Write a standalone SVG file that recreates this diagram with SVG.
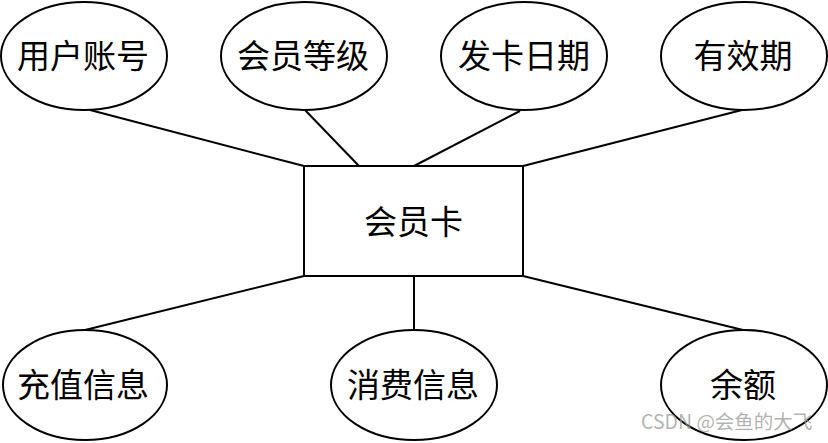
<svg xmlns="http://www.w3.org/2000/svg" width="828" height="443" viewBox="0 0 828 443">
<style>
.n{fill:#fff;stroke:#000;stroke-width:2}
.t{font-family:"Noto Sans CJK SC","Noto Sans",sans-serif;font-size:33px;fill:#000;text-anchor:middle;dominant-baseline:central}
.e{stroke:#000;stroke-width:2;fill:none}
.w{font-family:"Noto Sans CJK SC","Noto Sans",sans-serif;font-size:19.5px;fill:#999;fill-opacity:0.75}
</style>
<rect width="828" height="443" fill="#fff"/>
<g id="connectors">
<line class="e" x1="90" y1="110" x2="304" y2="166"/>
<line class="e" x1="305" y1="110" x2="359" y2="166"/>
<line class="e" x1="520" y1="111" x2="414" y2="166"/>
<line class="e" x1="742" y1="110" x2="523" y2="166"/>
<line class="e" x1="85" y1="330" x2="304" y2="276"/>
<line class="e" x1="414" y1="330" x2="414" y2="276"/>
<line class="e" x1="743" y1="330" x2="523" y2="276"/>
</g>
<g id="n-member-card"><rect class="n" x="304" y="166" width="219" height="110"/><text class="t" x="413.5" y="220">会员卡</text></g>
<g id="n-account"><ellipse class="n" cx="84" cy="56" rx="83" ry="54"/><text class="t" x="83" y="54">用户账号</text></g>
<g id="n-level"><ellipse class="n" cx="304" cy="56" rx="83" ry="54"/><text class="t" x="303" y="54">会员等级</text></g>
<g id="n-issue-date"><ellipse class="n" cx="524" cy="56" rx="83" ry="54"/><text class="t" x="524" y="54">发卡日期</text></g>
<g id="n-validity"><ellipse class="n" cx="744" cy="56" rx="83" ry="54"/><text class="t" x="743" y="54">有效期</text></g>
<g id="n-recharge"><ellipse class="n" cx="85" cy="385" rx="82" ry="55"/><text class="t" x="83" y="383">充值信息</text></g>
<g id="n-consume"><ellipse class="n" cx="414" cy="385" rx="83" ry="55"/><text class="t" x="413" y="383">消费信息</text></g>
<g id="n-balance"><ellipse class="n" cx="744" cy="385" rx="83" ry="55"/><text class="t" x="743" y="383">余额</text></g>
<text class="w" x="641" y="429">CSDN @会鱼的大飞</text>
</svg>
